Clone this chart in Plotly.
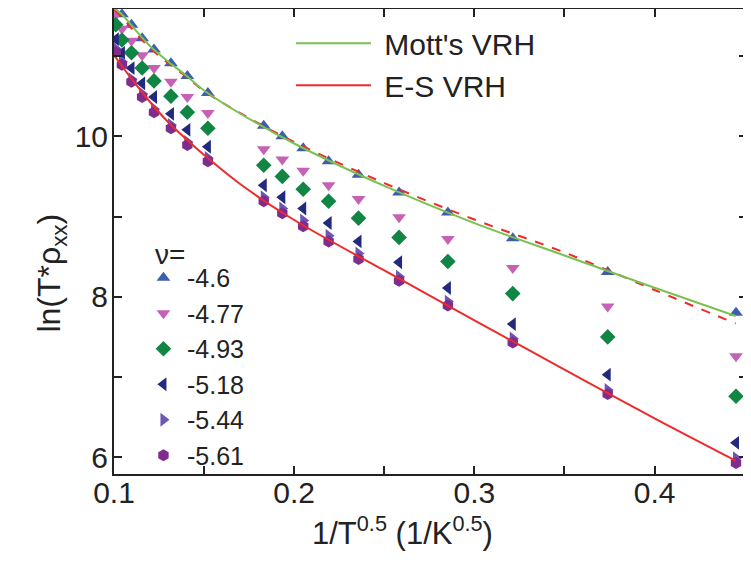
import plotly.graph_objects as go

# x = 1/T^0.5 (1/K^0.5)
x_data = [0.101, 0.1044, 0.1097, 0.1156, 0.1222, 0.1316, 0.1407, 0.1521, 0.1831,
          0.1934, 0.2050, 0.2191, 0.2357, 0.2582, 0.2853, 0.3213, 0.3740, 0.4452]

nu_labels = ["-4.6", "-4.77", "-4.93", "-5.18", "-5.44", "-5.61"]

y_m460 = [11.66, 11.52, 11.39, 11.22, 11.08, 10.91, 10.75, 10.54, 10.13,
          10.00, 9.85, 9.69, 9.52, 9.30, 9.05, 8.73, 8.31, 7.80]
y_m477 = [11.51, 11.34, 11.19, 11.01, 10.85, 10.68, 10.49, 10.29, 9.84,
          9.71, 9.57, 9.39, 9.22, 8.99, 8.72, 8.36, 7.88, 7.26]
y_m493 = [11.39, 11.20, 11.04, 10.85, 10.69, 10.50, 10.30, 10.10, 9.64,
          9.50, 9.34, 9.19, 8.98, 8.74, 8.44, 8.04, 7.50, 6.76]
y_m518 = [11.21, 11.04, 10.85, 10.66, 10.49, 10.28, 10.08, 9.87, 9.39,
          9.24, 9.10, 8.92, 8.69, 8.43, 8.11, 7.66, 7.03, 6.18]
y_m544 = [11.09, 10.93, 10.71, 10.53, 10.34, 10.14, 9.93, 9.73, 9.24,
          9.10, 8.95, 8.76, 8.54, 8.25, 7.94, 7.48, 6.84, 5.99]
y_m561 = [11.05, 10.89, 10.68, 10.49, 10.30, 10.10, 9.89, 9.69, 9.19,
          9.04, 8.88, 8.69, 8.47, 8.20, 7.89, 7.43, 6.79, 5.93]

# fit curves
x_fit = [0.1, 0.105, 0.11, 0.12, 0.13, 0.14, 0.15, 0.17, 0.2, 0.25, 0.3, 0.35, 0.4, 0.445]
y_mott_460 = [11.60, 11.505, 11.374, 11.125, 10.932, 10.758, 10.571, 10.284, 9.910,
              9.381, 8.918, 8.515, 8.113, 7.761]
y_es_460 = [11.574, 11.474, 11.337, 11.100, 10.913, 10.745, 10.564, 10.290, 9.929,
            9.417, 8.963, 8.552, 8.085, 7.667]
y_es_561 = [11.013, 10.857, 10.708, 10.427, 10.178, 9.966, 9.767, 9.405, 8.957,
            8.328, 7.707, 7.092, 6.485, 5.958]

series = [y_m460, y_m477, y_m493, y_m518, y_m544, y_m561]
symbols = ["triangle-up", "triangle-down", "diamond", "triangle-left", "triangle-right", "hexagon"]
colors = ["#3F5DAE", "#C562B5", "#108544", "#222A7E", "#6C57B7", "#7E2D8F"]

FONT = "Liberation Sans, Arial, sans-serif"
TXT = "#222"
fig = go.Figure()

for lab, ys, sym, col in zip(nu_labels, series, symbols, colors):
    fig.add_trace(go.Scatter(
        x=x_data, y=ys, mode="markers", name=lab, legend="legend2",
        marker=dict(symbol=sym, size=12, color=col, line=dict(width=0)),
    ))

fig.add_trace(go.Scatter(x=x_fit, y=y_es_460, mode="lines", showlegend=False,
                         line=dict(color="#EE2B2B", width=2, dash="dash", shape="spline")))
fig.add_trace(go.Scatter(x=x_fit, y=y_mott_460, mode="lines", name="\u00a0Mott's VRH", legend="legend",
                         line=dict(color="#79C150", width=2, shape="spline")))
fig.add_trace(go.Scatter(x=x_fit, y=y_es_561, mode="lines", name="\u00a0E-S VRH", legend="legend",
                         line=dict(color="#EE2B2B", width=2, shape="spline")))

axis_common = dict(
    showline=True, linecolor=TXT, linewidth=2, mirror="allticks",
    ticks="inside", ticklen=8, tickwidth=1.5, tickcolor=TXT,
    showgrid=False, zeroline=False, automargin=False,
    tickfont=dict(family=FONT, size=30, color=TXT),
)

fig.update_layout(
    width=751, height=561,
    margin=dict(l=106, r=12, t=1, b=95),
    paper_bgcolor="white", plot_bgcolor="white",
    font=dict(family=FONT, color=TXT),
    xaxis=dict(range=[0.1, 0.4513], dtick=0.1, tick0=0.1, ticklabelstandoff=-9,
               minor=dict(dtick=0.05, ticks="inside", ticklen=8, tickwidth=1.5, tickcolor=TXT),
               **axis_common),
    yaxis=dict(range=[5.792, 11.586], dtick=2, tick0=6, ticklabelstandoff=-2,
               minor=dict(dtick=1, ticks="inside", ticklen=8, tickwidth=1.5, tickcolor=TXT),
               **axis_common),
    legend=dict(x=0.2796, y=0.982, xanchor="left", yanchor="top",
                bgcolor="rgba(0,0,0,0)", font=dict(family=FONT, size=30, color=TXT),
                itemwidth=75, tracegroupgap=0),
    legend2=dict(x=0.041, y=0.471, xanchor="left", yanchor="top",
                 bgcolor="rgba(0,0,0,0)", font=dict(family=FONT, size=25, color=TXT),
                 itemwidth=37, itemsizing="constant"),
    annotations=[
        dict(text="1/T<sup>0.5</sup> (1/K<sup>0.5</sup>)", xref="paper", yref="paper",
             x=0.455, y=-0.122, xanchor="center", yanchor="middle", showarrow=False,
             font=dict(family=FONT, size=31, color=TXT)),
        dict(text="ln(T*ρ<sub>xx</sub>)", xref="paper", yref="paper",
             x=-0.098, y=0.433, xanchor="center", yanchor="middle", showarrow=False,
             textangle=-90, font=dict(family=FONT, size=32, color=TXT)),
        dict(text="ν=", xref="paper", yref="paper",
             x=0.0885, y=0.473, xanchor="center", yanchor="middle", showarrow=False,
             font=dict(family=FONT, size=28, color=TXT)),
    ],
)

fig.write_html("out.html")
